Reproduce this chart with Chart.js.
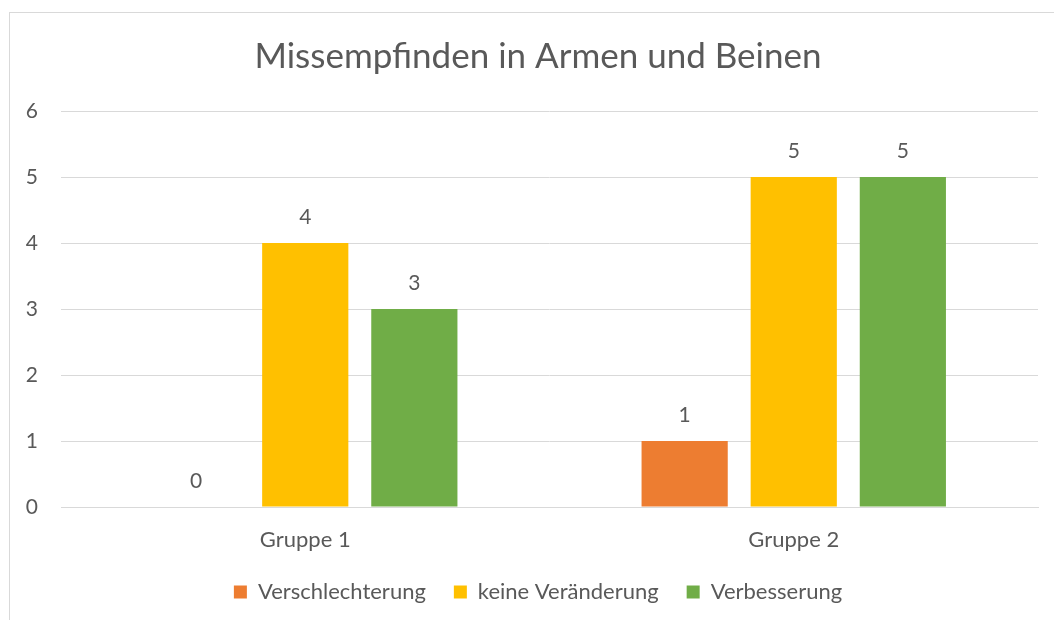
<!DOCTYPE html>
<html>
<head>
<meta charset="utf-8">
<script src="https://cdn.jsdelivr.net/npm/chart.js@4"></script>
<style>
  body { margin: 0; background: #fff; }
  #wrap { position: relative; width: 1054px; height: 620px; overflow: hidden; }
  #frame { position: absolute; left: 9px; top: 12px; width: 1100px; height: 700px; border: 1px solid #d9d9d9; box-sizing: border-box; }
  canvas { position: absolute; left: 0; top: 0; }
</style>
</head>
<body>
<div id="wrap">
  <div id="frame"></div>
  <canvas id="chart" width="1080" height="620"></canvas>
</div>
<script>
const categories = ["Gruppe 1", "Gruppe 2"];
const verschlechterung = [0, 1];
const keineVeraenderung = [4, 5];
const verbesserung = [3, 5];
const yTicks = [0, 1, 2, 3, 4, 5, 6];

const FONT = "Lato, 'Open Sans', sans-serif";
const GREY = "#595959";

// draws value labels above bars
const valueLabels = {
  id: "valueLabels",
  afterDatasetsDraw(chart) {
    const ctx = chart.ctx;
    ctx.save();
    ctx.font = "21px " + FONT;
    ctx.fillStyle = GREY;
    ctx.textAlign = "center";
    ctx.textBaseline = "middle";
    chart.data.datasets.forEach((ds, i) => {
      chart.getDatasetMeta(i).data.forEach((bar, j) => {
        ctx.fillText(ds.data[j], bar.x, bar.y - 26);
      });
    });
    ctx.restore();
  }
};

const ctx = document.getElementById("chart").getContext("2d");
new Chart(ctx, {
  type: "bar",
  data: {
    labels: categories,
    datasets: [
      { label: "Verschlechterung", data: verschlechterung, backgroundColor: "#ED7D31" },
      { label: "keine Veränderung", data: keineVeraenderung, backgroundColor: "#FFC000" },
      { label: "Verbesserung", data: verbesserung, backgroundColor: "#70AD47" }
    ]
  },
  options: {
    responsive: false,
    animation: false,
    layout: { padding: { left: 9, right: 13, top: 12, bottom: 7 } },
    datasets: { bar: { categoryPercentage: 0.67, barPercentage: 0.79 } },
    plugins: {
      title: {
        display: true,
        text: "Missempfinden in Armen und Beinen",
        color: GREY,
        font: { family: FONT, size: 35, weight: "normal" },
        padding: { top: 24, bottom: 33 }
      },
      legend: {
        position: "bottom",
        labels: {
          color: GREY,
          font: { family: FONT, size: 22 },
          boxWidth: 13,
          boxHeight: 13,
          padding: 28
        }
      },
      tooltip: { enabled: false }
    },
    scales: {
      x: {
        grid: { display: false, drawTicks: false },
        border: { color: "#d9d9d9" },
        afterFit(scale) { scale.height = 46; },
        ticks: { color: GREY, font: { family: FONT, size: 22 }, padding: 20 }
      },
      y: {
        min: 0,
        max: 6,
        afterBuildTicks(scale) { scale.ticks = yTicks.map(v => ({ value: v })); },
        afterFit(scale) { scale.width = 52; },
        grid: { color: "#d9d9d9", drawTicks: false },
        border: { display: false },
        ticks: { color: GREY, font: { family: FONT, size: 21 }, padding: 23 }
      },
      // empty right axis keeps the plot clear of the frame's right side
      yRight: {
        position: "right",
        afterFit(scale) { scale.width = 29; },
        grid: { display: false, drawTicks: false },
        border: { display: false },
        ticks: { display: false }
      }
    }
  },
  plugins: [valueLabels]
});
</script>
</body>
</html>
